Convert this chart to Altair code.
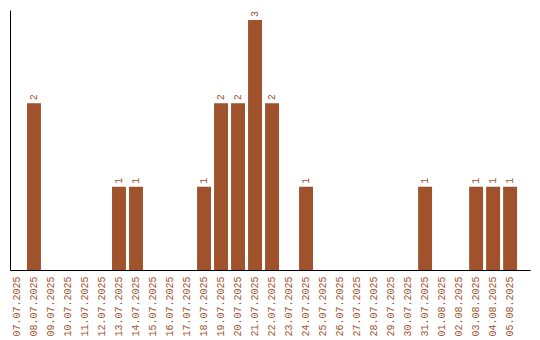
import altair as alt
import pandas as pd

dates = ["07.07.2025","08.07.2025","09.07.2025","10.07.2025","11.07.2025","12.07.2025",
         "13.07.2025","14.07.2025","15.07.2025","16.07.2025","17.07.2025","18.07.2025",
         "19.07.2025","20.07.2025","21.07.2025","22.07.2025","23.07.2025","24.07.2025",
         "25.07.2025","26.07.2025","27.07.2025","28.07.2025","29.07.2025","30.07.2025",
         "31.07.2025","01.08.2025","02.08.2025","03.08.2025","04.08.2025","05.08.2025"]
counts = [0,2,0,0,0,0,1,1,0,0,0,1,2,2,3,2,0,1,0,0,0,0,0,0,1,0,0,1,1,1]

df = pd.DataFrame({"date": dates, "count": counts})
color = "#A0522D"
font = "Liberation Mono"

x = alt.X("date:N", sort=dates, title=None,
          scale=alt.Scale(paddingInner=0.18, paddingOuter=0.38, align=0),
          axis=alt.Axis(labelAngle=270, labelColor=color, labelFont=font, labelFontSize=10,
                        ticks=False, labelPadding=6, domainColor="black", domainWidth=1,
                        labelAlign="right", labelBaseline="middle", grid=False))
y = alt.Y("count:Q", title=None, scale=alt.Scale(domain=[0, 3.12], nice=False),
          axis=alt.Axis(labels=False, ticks=False, grid=False, domainColor="black", domainWidth=1))

bars = alt.Chart(df).mark_bar(color=color).encode(x=x, y=y)
labels = alt.Chart(df).transform_filter("datum.count > 0").mark_text(
    angle=270, align="left", baseline="middle", dx=3, color=color, font=font, fontSize=10
).encode(x=alt.X("date:N", sort=dates), y="count:Q", text="count:Q")

chart = (bars + labels).properties(
    width=520, height=260,
    background="white",
    padding={"left": 10, "top": 10, "right": 10, "bottom": 70},
    autosize=alt.AutoSizeParams(type="none"),
).configure_view(stroke=None)

chart.save("out.html", embed_options={"renderer": "svg", "actions": False})
